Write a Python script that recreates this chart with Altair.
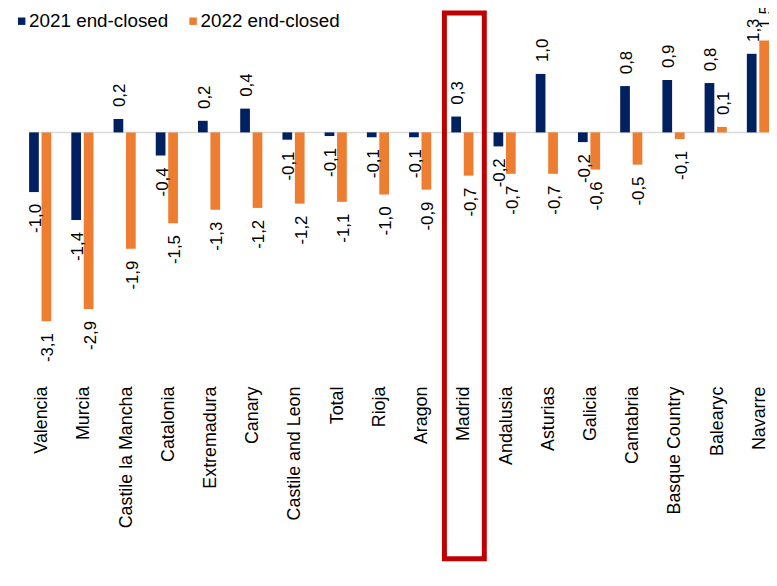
import altair as alt
import pandas as pd

regions = ["Valencia", "Murcia", "Castile la Mancha", "Catalonia", "Extremadura",
           "Canary", "Castile and Leon", "Total", "Rioja", "Aragon", "Madrid",
           "Andalusia", "Asturias", "Galicia", "Cantabria", "Basque Country",
           "Balearyc", "Navarre"]
series_names = ["2021 end-closed", "2022 end-closed"]
v2021 = [-0.98, -1.44, 0.22, -0.38, 0.19, 0.39, -0.12, -0.06, -0.08, -0.08, 0.26,
         -0.23, 0.96, -0.16, 0.76, 0.86, 0.81, 1.29]
v2022 = [-3.10, -2.90, -1.91, -1.49, -1.27, -1.24, -1.17, -1.14, -1.02, -0.94, -0.71,
         -0.68, -0.68, -0.61, -0.53, -0.11, 0.09, 1.51]
colors = ["#002060", "#ED7D31"]
highlight = ["Madrid"]

rows = []
for r, a, b in zip(regions, v2021, v2022):
    rows.append({"region": r, "series": series_names[0], "value": a})
    rows.append({"region": r, "series": series_names[1], "value": b})
df = pd.DataFrame(rows)
df["label"] = df["value"].map(lambda v: f"{v:.1f}".replace(".", ","))

FONT = "Liberation Sans"

x_scale = alt.Scale(paddingInner=0.475, paddingOuter=0, round=False)
x_enc = alt.X("region:N", sort=regions, title=None, scale=x_scale,
              axis=alt.Axis(labelAngle=270, labelFontSize=18, labelFont=FONT,
                            labelColor="#000000", domain=False, ticks=False, grid=False,
                            labelPadding=4, labelOverlap=False, labelOffset=2))
xo_enc = alt.XOffset("series:N", sort=series_names,
                     scale=alt.Scale(paddingInner=0.22, paddingOuter=0, round=False))
y_scale = alt.Scale(domain=[-4.1, 2.0], nice=False, zero=False)
y_enc = alt.Y("value:Q", scale=y_scale, axis=None)

zero_rule = alt.Chart(pd.DataFrame({"zero": [0]})).mark_rule(
    color="#d9d9d9", strokeWidth=1.5, xOffset=-10
).encode(y=alt.Y("zero:Q", scale=y_scale, axis=None))

bars = alt.Chart(df).mark_bar().encode(
    x=x_enc, xOffset=xo_enc, y=y_enc,
    color=alt.Color("series:N", sort=series_names,
                    scale=alt.Scale(domain=series_names, range=colors),
                    legend=alt.Legend(title=None, orient="none", legendX=-17, legendY=1,
                                      direction="horizontal", symbolType="square",
                                      symbolSize=56, symbolStrokeWidth=0,
                                      labelFontSize=19, labelFont=FONT,
                                      labelColor="#000000", columnPadding=15,
                                      labelOffset={"expr": "-2"})),
)

pos_labels = alt.Chart(df).transform_filter("datum.value >= 0").mark_text(
    angle=270, align="left", baseline="middle", dx=12, dy=2, fontSize=17, font=FONT,
    color="#000000"
).encode(x=x_enc, xOffset=xo_enc, y=y_enc, text="label:N")

neg_labels = alt.Chart(df).transform_filter("datum.value < 0").mark_text(
    angle=270, align="right", baseline="middle", dx=-12, dy=2, fontSize=17, font=FONT,
    color="#000000"
).encode(x=x_enc, xOffset=xo_enc, y=y_enc, text="label:N")

box = alt.Chart(pd.DataFrame({"region": highlight})).mark_bar(
    fillOpacity=0, stroke="#c00000", strokeWidth=5, width={"band": 1.8}, xOffset=2
).encode(x=alt.X("region:N", sort=regions), y=alt.datum(1.96), y2=alt.datum(-7.0))

chart = alt.layer(zero_rule, bars, pos_labels, neg_labels, box).properties(
    width=746.7, height=375,
    autosize=alt.AutoSizeParams(type="none"),
    padding={"left": 21.3, "top": 0, "right": 0, "bottom": 185},
).configure_view(strokeWidth=0)

chart.save("out.html", embed_options={"renderer": "svg", "actions": False})
